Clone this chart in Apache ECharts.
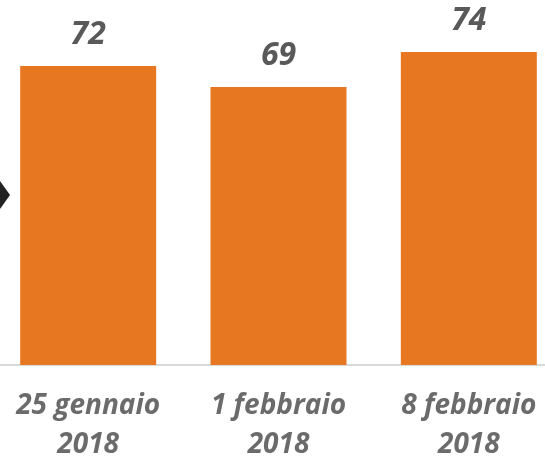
<!DOCTYPE html>
<html>
<head>
<meta charset="utf-8">
<script src="https://cdn.jsdelivr.net/npm/echarts@6/dist/echarts.min.js"></script>
<style>
  html, body { margin: 0; padding: 0; background: #fff; }
  #chart { width: 545px; height: 461px; }
</style>
</head>
<body>
<div id="chart"></div>
<script>
// dati
const categories = ['25 gennaio\n2018', '1 febbraio\n2018', '8 febbraio\n2018']
const values = [72, 69, 74]
// asse y non parte da zero (il grafico originale è tagliato)
const yMin = 29.3
const yMax = 81.44

const chart = echarts.init(document.getElementById('chart'))

const option = {
  animation: false,
  grid: {
    left: -7,
    top: 0,
    width: 571,
    bottom: 96,
    containLabel: false,
    outerBoundsMode: 'none'
  },
  xAxis: {
    type: 'category',
    data: categories,
    axisTick: { show: false },
    axisLine: {
      lineStyle: { color: '#d9d9d9', width: 2 }
    },
    axisLabel: {
      interval: 0,
      margin: 22,
      color: '#6b6b6b',
      fontFamily: 'Open Sans',
      fontStyle: 'italic',
      fontWeight: 'bold',
      fontSize: 28,
      lineHeight: 39
    }
  },
  yAxis: {
    type: 'value',
    min: yMin,
    max: yMax,
    show: false,
    splitLine: { show: false }
  },
  series: [
    {
      type: 'bar',
      data: values,
      barWidth: 136,
      itemStyle: { color: '#e87722' },
      label: {
        show: true,
        position: 'top',
        distance: 15,
        color: '#595959',
        fontFamily: 'Open Sans',
        fontStyle: 'italic',
        fontWeight: 'bold',
        fontSize: 32
      }
    }
  ],
  graphic: [
    {
      // freccia nera tagliata sul bordo sinistro
      type: 'polygon',
      shape: { points: [[0, 181], [10, 195], [0, 209]] },
      style: { fill: '#222222' }
    }
  ]
}

chart.setOption(option)
</script>
</body>
</html>
